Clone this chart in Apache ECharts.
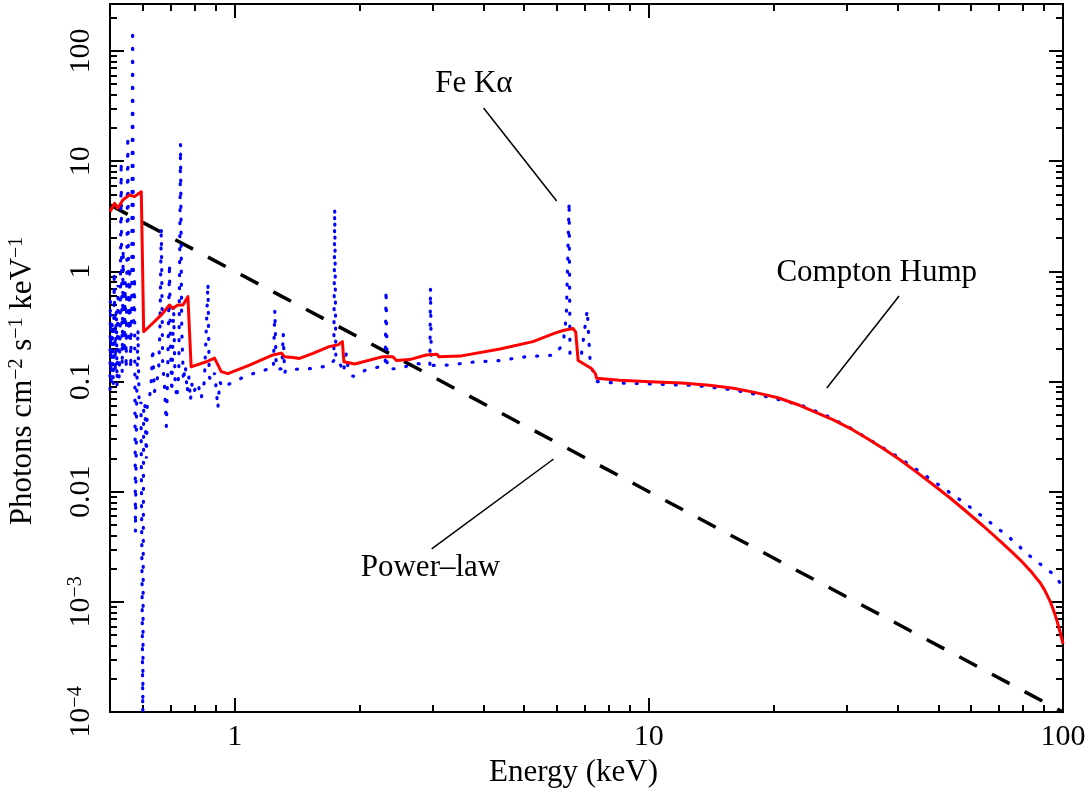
<!DOCTYPE html>
<html><head><meta charset="utf-8">
<script src="https://cdn.jsdelivr.net/npm/echarts@6/dist/echarts.min.js"></script>
<style>html,body{margin:0;padding:0;background:#fff}#c{width:1088px;height:792px}</style>
</head><body><div id="c"></div>
<script>
// ---------------- data ----------------
const xMajorTicks = [1, 10, 100];
const xMinorTicks = [0.6, 0.7, 0.8, 0.9, 2, 3, 4, 5, 6, 7, 8, 9, 20, 30, 40, 50, 60, 70, 80, 90];
const yMajorTicks = [1e-4, 1e-3, 0.01, 0.1, 1, 10, 100];
const yTickLabels = ['10{sup|\u22124}', '10{sup|\u22123}', '0.01', '0.1', '1', '10', '100'];
const yMinorTicks = [2e-4, 3e-4, 4e-4, 5e-4, 6e-4, 7e-4, 8e-4, 9e-4,
  2e-3, 3e-3, 4e-3, 5e-3, 6e-3, 7e-3, 8e-3, 9e-3,
  0.02, 0.03, 0.04, 0.05, 0.06, 0.07, 0.08, 0.09,
  0.2, 0.3, 0.4, 0.5, 0.6, 0.7, 0.8, 0.9,
  2, 3, 4, 5, 6, 7, 8, 9, 20, 30, 40, 50, 60, 70, 80, 90, 200];

// power-law continuum (energy keV, photons)
const powerLaw = [[0.5, 4.0], [100, 1.0e-4]];

// total reflection model (red)
const redModel = [
  [0.5, 3.48], [0.513, 4.14], [0.522, 3.74], [0.537, 4.44], [0.557, 4.93], [0.573, 4.77], [0.595, 5.28], [0.598, 5.3],
  [0.603, 0.283], [0.634, 0.338], [0.665, 0.402], [0.696, 0.495], [0.709, 0.461], [0.729, 0.495], [0.75, 0.495],
  [0.771, 0.589], [0.778, 0.6], [0.785, 0.136], [0.808, 0.141], [0.854, 0.151], [0.894, 0.163], [0.903, 0.168],
  [0.928, 0.123], [0.963, 0.118], [1.086, 0.141], [1.237, 0.174], [1.296, 0.181], [1.32, 0.168], [1.382, 0.165],
  [1.435, 0.162], [1.545, 0.18], [1.696, 0.208], [1.776, 0.215], [1.82, 0.23], [1.835, 0.151], [1.949, 0.144],
  [2.28, 0.168], [2.41, 0.168], [2.457, 0.155], [2.645, 0.158], [2.9, 0.174], [3.08, 0.177], [3.11, 0.168],
  [3.5, 0.17], [4.37, 0.197], [5.25, 0.23], [5.93, 0.275], [6.21, 0.29], [6.56, 0.303], [6.66, 0.28],
  [6.75, 0.155], [7.27, 0.131], [7.43, 0.118], [7.48, 0.107], [8.5, 0.1025], [10.06, 0.0996], [12, 0.0968],
  [14, 0.0925], [16, 0.0868], [18, 0.0797], [20.5, 0.0712], [23.2, 0.0605], [27.9, 0.0448], [30.6, 0.0376],
  [33.6, 0.0305], [36.8, 0.0246], [40.4, 0.0195], [44.4, 0.01497], [48.6, 0.01157], [53.4, 0.00876],
  [58.6, 0.00654], [64.2, 0.00488], [70.5, 0.00355], [75.9, 0.00275], [79, 0.00238], [81.8, 0.00207],
  [84, 0.00186], [86, 0.00166], [88.1, 0.001488], [90.5, 0.001257], [93.1, 0.001008], [94.8, 0.000848],
  [96.6, 0.000682], [98.4, 0.000532], [100, 0.000415]
];

// model with emission lines (blue dotted)
const blueModel = [
  [0.500, 0.085], [0.501, 0.55], [0.503, 0.10], [0.506, 0.35], [0.509, 0.09], [0.512, 1.0], [0.515, 0.12],
  [0.518, 0.45], [0.520, 0.09], [0.523, 0.75], [0.526, 0.11], [0.529, 0.3], [0.532, 9.9], [0.535, 0.12],
  [0.538, 1.6], [0.541, 0.18], [0.544, 0.8], [0.547, 0.13], [0.552, 17], [0.555, 0.25], [0.558, 1.1],
  [0.561, 0.13], [0.564, 0.5], [0.567, 157], [0.570, 0.35], [0.573, 0.9], [0.576, 0.0043], [0.580, 0.07],
  [0.584, 0.3], [0.588, 0.06], [0.594, 0.065], [0.600, 0.0001], [0.603, 0.06], [0.607, 0.065], [0.612, 0.02],
  [0.615, 0.06], [0.622, 0.07], [0.628, 0.09], [0.634, 0.2], [0.640, 0.08], [0.648, 0.1], [0.655, 0.12],
  [0.660, 0.3], [0.665, 2.54], [0.670, 0.15], [0.677, 0.09], [0.684, 0.039], [0.689, 0.12], [0.696, 1.18],
  [0.700, 0.2], [0.705, 0.08], [0.712, 0.5], [0.718, 0.1], [0.725, 0.07], [0.733, 0.12], [0.740, 14.5],
  [0.745, 0.3], [0.752, 0.1], [0.760, 0.14], [0.768, 0.08], [0.775, 0.11], [0.782, 0.067], [0.790, 0.1],
  [0.800, 0.083], [0.815, 0.097], [0.830, 0.07], [0.845, 0.1], [0.862, 0.78], [0.868, 0.11], [0.880, 0.1],
  [0.895, 0.12], [0.911, 0.057], [0.920, 0.1], [0.936, 0.0875], [0.970, 0.095], [1.0, 0.1], [1.067, 0.113],
  [1.19, 0.128], [1.24, 0.13], [1.25, 0.446], [1.26, 0.13], [1.30, 0.13], [1.31, 0.274], [1.32, 0.12],
  [1.33, 0.128], [1.545, 0.131], [1.70, 0.14], [1.735, 0.155], [1.744, 3.73], [1.755, 0.16], [1.79, 0.151],
  [1.83, 0.12], [1.86, 0.18], [1.88, 0.13], [1.93, 0.111], [2.08, 0.128], [2.26, 0.137], [2.31, 0.14],
  [2.32, 0.677], [2.335, 0.13], [2.5, 0.131], [2.74, 0.146], [2.96, 0.14], [2.97, 0.71], [2.985, 0.14],
  [3.3, 0.141], [3.77, 0.15], [4.37, 0.155], [5.06, 0.168], [5.93, 0.174], [6.21, 0.22], [6.32, 0.39],
  [6.42, 4.29], [6.45, 0.18], [6.88, 0.18], [7.1, 0.446], [7.22, 0.146], [7.48, 0.1], [8.07, 0.0977],
  [10.06, 0.095], [13, 0.092], [16, 0.084], [19, 0.0735], [23.2, 0.0614], [26.8, 0.0491], [30.7, 0.0377],
  [35.0, 0.0279], [39.8, 0.0209], [45.3, 0.015], [51.4, 0.0108], [58.4, 0.00768], [66.0, 0.00542],
  [74.3, 0.00382], [83.0, 0.00262], [94.1, 0.00182], [100, 0.00138]
];

// annotations: [energy, flux, text]
const annotationTexts = [[3.78, 50.2, 'Fe K\u03b1'], [35.5, 0.966, 'Compton Hump'], [2.97, 0.00203, 'Power\u2013law']];
const annotationLines = [
  [[3.99, 30.4], [5.99, 4.35]],
  [[40.2, 0.597], [26.9, 0.0873]],
  [[2.99, 0.00302], [5.89, 0.0198]]
];

// ---------------- chart ----------------
const FONT = 'Liberation Serif';
const chart = echarts.init(document.getElementById('c'), null, {renderer: 'canvas'});

function xAxisDef(pos, ticks, len, withLabels) {
  return {
    type: 'log', logBase: 10, min: 0.5, max: 100, position: pos,
    axisLine: {show: true, onZero: false, lineStyle: {color: '#000', width: 2}},
    axisTick: {show: true, inside: true, length: len, customValues: ticks, lineStyle: {color: '#000', width: 2}},
    axisLabel: withLabels ? {
      show: true, customValues: xMajorTicks, margin: 10, color: '#000', fontFamily: FONT, fontSize: 30,
      formatter: v => String(Math.round(v))
    } : {show: false},
    splitLine: {show: false}, minorTick: {show: false}, minorSplitLine: {show: false},
    name: withLabels ? 'Energy (keV)' : '', nameLocation: 'middle', nameGap: 45,
    nameTextStyle: {color: '#000', fontFamily: FONT, fontSize: 31, padding: [0, 26, 0, 0]}
  };
}
function yAxisDef(pos, ticks, len, withLabels) {
  return {
    type: 'log', logBase: 10, min: 1e-4, max: 267, position: pos,
    axisLine: {show: true, onZero: false, lineStyle: {color: '#000', width: 2}},
    axisTick: {show: true, inside: true, length: len, customValues: ticks, lineStyle: {color: '#000', width: 2}},
    axisLabel: withLabels ? {
      show: true, customValues: yMajorTicks, margin: 14, rotate: 90, color: '#000', fontFamily: FONT, fontSize: 30,
      formatter: v => {
        let idx = 0, best = 1e9;
        yMajorTicks.forEach((t, i) => { const d = Math.abs(Math.log10(t) - Math.log10(v)); if (d < best) { best = d; idx = i; } });
        return yTickLabels[idx];
      },
      rich: {sup: {fontSize: 20, verticalAlign: 'top', fontFamily: FONT, color: '#000'}}
    } : {show: false},
    splitLine: {show: false}, minorTick: {show: false}, minorSplitLine: {show: false},
    name: withLabels ? 'Photons cm{sup|\u22122} s{sup|\u22121} keV{sup|\u22121}' : '',
    nameLocation: 'middle', nameRotate: 90, nameGap: 72,
    nameTextStyle: {color: '#000', fontFamily: FONT, fontSize: 31, padding: [0, 46, 0, 0],
      rich: {sup: {fontSize: 20, verticalAlign: 'top', fontFamily: FONT, color: '#000'}}}
  };
}

const option = {
  animation: false,
  backgroundColor: '#fff',
  grid: {left: 110, right: 25, top: 4, bottom: 80, containLabel: false, outerBoundsMode: 'none'},
  xAxis: [
    xAxisDef('bottom', xMajorTicks, 14, true),
    xAxisDef('bottom', xMinorTicks, 7, false),
    xAxisDef('top', xMajorTicks, 14, false),
    xAxisDef('top', xMinorTicks, 7, false)
  ],
  yAxis: [
    yAxisDef('left', yMajorTicks, 14, true),
    yAxisDef('left', yMinorTicks, 7, false),
    yAxisDef('right', yMajorTicks, 14, false),
    yAxisDef('right', yMinorTicks, 7, false)
  ],
  series: [
    {type: 'line', data: powerLaw, showSymbol: false, symbol: 'none', silent: true,
      lineStyle: {color: '#000', width: 3.5, type: [20, 17]}, z: 2},
    {type: 'line', data: blueModel, showSymbol: false, symbol: 'none', silent: true,
      lineStyle: {color: '#0000ff', width: 3.2, type: [1, 12], cap: 'round'}, z: 3},
    {type: 'line', data: redModel, showSymbol: false, symbol: 'none', silent: true,
      lineStyle: {color: '#ff0000', width: 3, join: 'round'}, z: 4},
    {type: 'lines', coordinateSystem: 'cartesian2d', silent: true, z: 5,
      data: annotationLines.map(c => ({coords: c})),
      lineStyle: {color: '#000', width: 1.5, opacity: 1}},
    {type: 'scatter', silent: true, z: 6, symbolSize: 0, itemStyle: {color: '#000', opacity: 1},
      data: annotationTexts,
      label: {show: true, position: 'inside', formatter: p => p.value[2], color: '#000', opacity: 1,
        textBorderWidth: 0, textShadowBlur: 0, fontFamily: FONT, fontSize: 31}}
  ]
};
chart.setOption(option);
</script></body></html>
